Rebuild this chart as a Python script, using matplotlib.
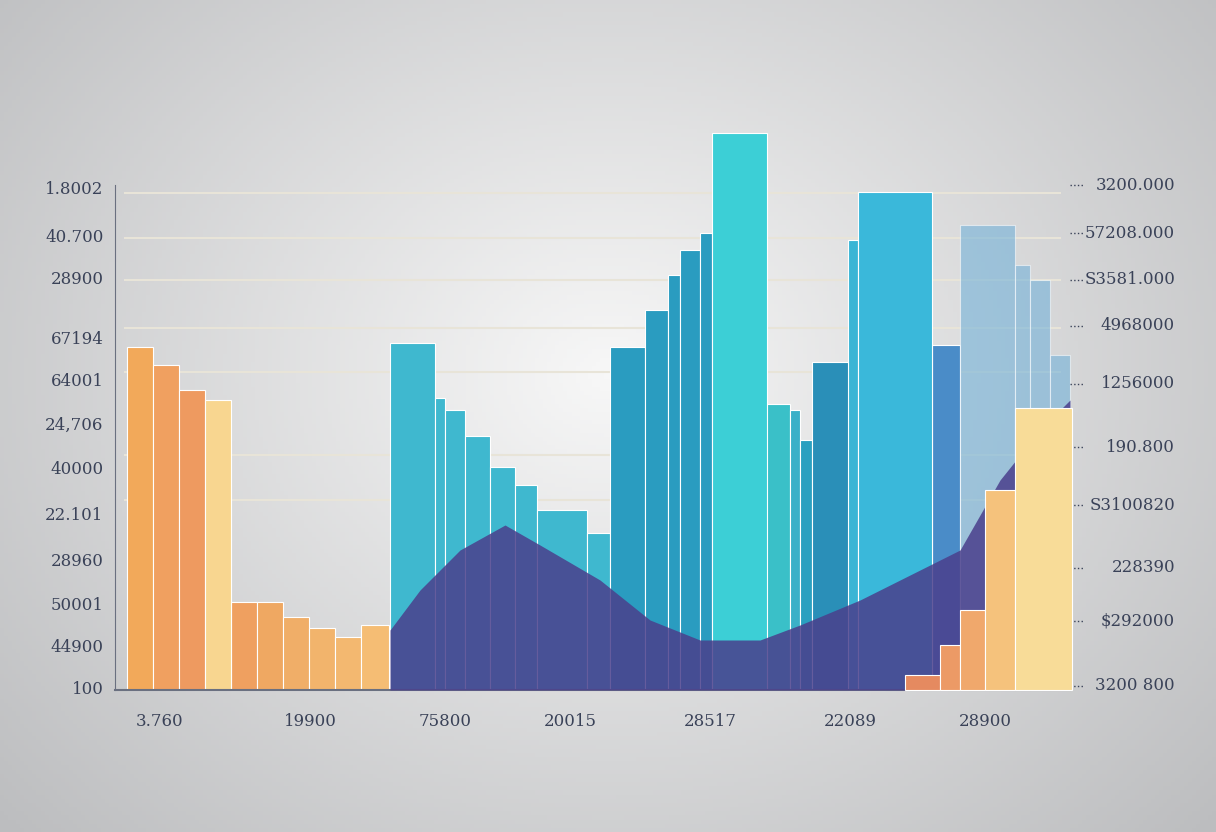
import numpy as np
import matplotlib
matplotlib.use("Agg")
import matplotlib.pyplot as plt
from matplotlib.colors import LinearSegmentedColormap

W, H = 1216, 832
left_labels = ["1.8002", "40.700", "28900", "67194", "64001", "24,706", "40000", "22.101", "28960", "50001", "44900", "100"]
left_pos = [500, 453, 411, 350, 308, 265, 220, 174, 128, 85, 42, 0]
right_labels = ["3200.000", "57208.000", "S3581.000", "4968000", "1256000", "190.800", "S3100820", "228390", "$292000", "3200 800"]
right_pos = [505, 457, 410, 364, 306, 243, 185, 122, 69, 4]
x_labels = ["3.760", "19900", "75800", "20015", "28517", "22089", "28900"]
x_pos = [160, 310, 445, 570, 710, 850, 985]
gridlines = [497, 452, 410, 362, 318, 235, 190]

orange_l = [127, 153, 179, 231, 257, 283, 309, 335, 361]
orange_r = [153, 179, 205, 257, 283, 309, 335, 361, 389]
orange_h = [343, 325, 300, 88, 88, 73, 62, 53, 65]
yellow_l = [205]; yellow_r = [231]; yellow_h = [290]
teal_l = [390, 435, 445, 465, 490, 515, 537, 587, 610, 645, 668, 680, 700, 765, 790, 800, 812, 857, 848, 932]
teal_r = [435, 445, 465, 490, 515, 537, 587, 610, 645, 668, 680, 700, 712, 790, 800, 812, 857, 885, 858, 960]
teal_h = [347, 292, 280, 254, 223, 205, 180, 157, 343, 380, 415, 440, 457, 286, 280, 250, 328, 310, 450, 345]
tall_l = [712, 858]; tall_r = [767, 932]; tall_h = [557, 498]
fade_l = [960, 1015, 1030, 1050]; fade_r = [1015, 1030, 1050, 1070]; fade_h = [465, 425, 410, 335]
warm_l = [905, 940, 960, 985, 1015]; warm_r = [940, 960, 985, 1015, 1072]; warm_h = [15, 45, 80, 200, 282]
area_x = [390, 420, 460, 505, 540, 600, 650, 700, 760, 800, 860, 920, 960, 1000, 1040, 1070]
area_y = [60, 100, 140, 165, 145, 110, 70, 50, 50, 65, 90, 120, 140, 210, 260, 290]

fig = plt.figure(figsize=(W/100, H/100), dpi=100)
bg = fig.add_axes([0, 0, 1, 1])
yy, xx = np.mgrid[0:1:200j, 0:1:300j]
r = np.sqrt(((xx-0.5)*1.2)**2 + ((yy-0.45)*1.0)**2)
bg.imshow(1 - r, cmap=LinearSegmentedColormap.from_list("g", ["#bcbdbf", "#f7f7f7"]), aspect="auto", extent=[0, 1, 0, 1])
bg.axis("off")

ax = fig.add_axes([115/W, (H-690)/H, 955/W, 505/H])
ax.set_xlim(115, 1070); ax.set_ylim(0, 505)
ax.patch.set_alpha(0)
for s in ["top", "right"]: ax.spines[s].set_visible(False)
ax.spines["left"].set_color("#6a7080"); ax.spines["bottom"].set_color("#6a7080")
ax.spines["bottom"].set_linewidth(1.5)
ax.set_xticks([]); ax.set_yticks([])
for g in gridlines:
    ax.axhline(g, xmin=0.01, xmax=0.99, color="#e8e4d8", lw=1.5, zorder=0)

def bars(l, r, h, c, a=1.0, z=2):
    l = np.array(l); r = np.array(r)
    bc = ax.bar(l, h, width=r-l, align="edge", color=c, alpha=a, zorder=z, edgecolor=(1, 1, 1, 0.35), linewidth=0.8)
    for p in bc:
        p.set_clip_on(False)

ocols = ["#f2a95a", "#f0a060", "#ee9a60", "#efa060", "#efa862", "#f0ae68", "#f2b46c", "#f3b870", "#f5bd74"]
bars(orange_l, orange_r, orange_h, ocols)
bars(yellow_l, yellow_r, yellow_h, "#f8d690")
bars(teal_l, teal_r, teal_h, ["#3fb8cf"]*8 + ["#2a9cc0"]*5 + ["#3ac0c8", "#3ab0c8", "#2aa0c0", "#2a8fb8", "#2f9cc0", "#3ab5d5", "#4a8cc8"])
bars(tall_l, tall_r, tall_h, ["#3ccfd6", "#3ab8da"], z=2)
bars(fade_l, fade_r, fade_h, "#6aaed8", a=0.55)
ax.fill_between(area_x, 0, area_y, color="#4a3f8c", alpha=0.85, zorder=3, lw=0)
bars(warm_l, warm_r, warm_h, ["#e58a60", "#ec9a66", "#f0a86c", "#f5c27c", "#f8dc98"], z=4)

kw = dict(fontsize=12, color="#3a4258", family="DejaVu Serif")
for t, p in zip(left_labels, left_pos):
    ax.text(-0.012, p/505, t, transform=ax.transAxes, ha="right", va="center", **kw)
for t, p in zip(right_labels, right_pos):
    ax.text(1.11, p/505, t, transform=ax.transAxes, ha="right", va="center", **kw)
    ax.plot([1.0, 1.015], [p/505, p/505], transform=ax.transAxes, ls=":", color="#3a4258", lw=1, clip_on=False)
for t, p in zip(x_labels, x_pos):
    ax.text(p, -32, t, ha="center", va="center", **kw)
fig.savefig("out.png", dpi=100)
